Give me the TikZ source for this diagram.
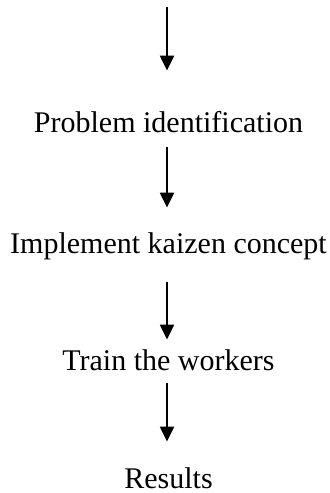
\documentclass[tikz,border=0pt]{standalone}
\usepackage{fontspec}
\setmainfont{Liberation Serif}
\usetikzlibrary{arrows.meta}

\tikzset{
  stufe/.style={inner sep=0pt, anchor=base, text height=10.3pt, text depth=3.3pt,
    font=\fontsize{15}{18}\selectfont},
  pfeil/.style={line width=1.1pt, -{Triangle[length=7.5pt,width=7pt]}}
}

\begin{document}
\begin{tikzpicture}[x=0.5pt,y=-0.5pt]
\useasboundingbox (0,0) rectangle (330,493);
% Schritte von oben nach unten:
\coordinate (start) at (167,7);
\node[stufe] (problem) at (168.5,132) {Problem identification};
\node[stufe] (kaizen) at (168.5,253) {Implement kaizen concept};
\node[stufe] (train) at (168.5,370) {Train the workers};
\node[stufe] (results) at (168.5,488) {Results};
% Pfeile zwischen den Schritten:
\draw[pfeil, shorten >=20.2pt] (start) -- (start |- problem.north);
\draw[pfeil, shorten <=4.2pt, shorten >=12.2pt] (start |- problem.south) -- (start |- kaizen.north);
\draw[pfeil, shorten <=11.2pt, shorten >=4.7pt] (start |- kaizen.south) -- (start |- train.north);
\draw[pfeil, shorten <=3.2pt, shorten >=12.7pt] (start |- train.south) -- (start |- results.north);
\end{tikzpicture}
\end{document}
